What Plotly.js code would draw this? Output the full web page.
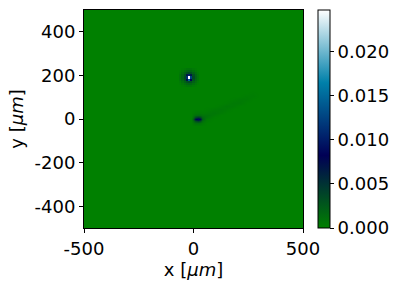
<!DOCTYPE html>
<html>
<head>
<meta charset="utf-8">
<script src="https://cdn.plot.ly/plotly-3.0.1.min.js"></script>
<style>html,body{margin:0;padding:0;background:#fff;}#chart{width:397px;height:288px;}</style>
</head>
<body>
<div id="chart"></div>
<script>
// Background field (edges) – essentially zero everywhere
const bgXEdges = [-500, 500];
const bgYEdges = [-500, 500];
const bgZ = [[0]];

// Bright spot A (cell centres, um)
const spotAX = [-70, -60, -50, -40, -30, -20, -10, 0, 10, 20, 30];
const spotAY = [140, 150, 160, 170, 180, 190, 200, 210, 220, 230, 240];
const spotAZ = [
  [0, 0, 0, 0, 0, 0, 0, 0, 0, 0, 0],
  [0, 0, 0.0002, 0.0004, 0.0007, 0.0008, 0.0007, 0.0004, 0.0002, 0, 0],
  [0, 0.0002, 0.0006, 0.0011, 0.0016, 0.0018, 0.0016, 0.0011, 0.0006, 0.0002, 0],
  [0, 0.0004, 0.0011, 0.0020, 0.0030, 0.0035, 0.0030, 0.0020, 0.0011, 0.0004, 0],
  [0, 0.0007, 0.0016, 0.0030, 0.0070, 0.0140, 0.0080, 0.0030, 0.0016, 0.0007, 0],
  [0, 0.0008, 0.0018, 0.0035, 0.0110, 0.0247, 0.0120, 0.0035, 0.0018, 0.0008, 0],
  [0, 0.0007, 0.0016, 0.0030, 0.0065, 0.0100, 0.0065, 0.0030, 0.0016, 0.0007, 0],
  [0, 0.0004, 0.0011, 0.0020, 0.0030, 0.0035, 0.0030, 0.0020, 0.0011, 0.0004, 0],
  [0, 0.0002, 0.0006, 0.0011, 0.0016, 0.0018, 0.0016, 0.0011, 0.0006, 0.0002, 0],
  [0, 0, 0.0002, 0.0004, 0.0007, 0.0008, 0.0007, 0.0004, 0.0002, 0, 0],
  [0, 0, 0, 0, 0, 0, 0, 0, 0, 0, 0]
];

// Dim spot B with faint tail (cell centres, um)
const spotBX = [-10, 0, 10, 20, 30, 40, 60, 90, 120, 150, 180, 210, 240, 270, 300];
const spotBY = [-30, -20, -10, 0, 10, 20, 30, 45, 60, 75, 90, 105, 120, 135];
const spotBZ = [
  [0, 0, 0, 0, 0, 0, 0, 0, 0, 0, 0, 0, 0, 0, 0],
  [0, 0.0005, 0.0009, 0.0010, 0.0008, 0.0004, 0, 0, 0, 0, 0, 0, 0, 0, 0],
  [0, 0.0012, 0.0030, 0.0040, 0.0030, 0.0010, 0.0002, 0, 0, 0, 0, 0, 0, 0, 0],
  [0, 0.0025, 0.0075, 0.0090, 0.0070, 0.0020, 0.0003, 0, 0, 0, 0, 0, 0, 0, 0],
  [0, 0.0012, 0.0035, 0.0045, 0.0035, 0.0015, 0.0007, 0.0001, 0, 0, 0, 0, 0, 0, 0],
  [0, 0.0006, 0.0010, 0.0012, 0.0010, 0.0008, 0.0008, 0.0004, 0, 0, 0, 0, 0, 0, 0],
  [0, 0.0002, 0.0004, 0.0005, 0.0004, 0.0003, 0.0004, 0.0006, 0.0003, 0, 0, 0, 0, 0, 0],
  [0, 0, 0, 0, 0, 0, 0.0001, 0.0003, 0.0005, 0.0003, 0, 0, 0, 0, 0],
  [0, 0, 0, 0, 0, 0, 0, 0, 0.0002, 0.0005, 0.0003, 0, 0, 0, 0],
  [0, 0, 0, 0, 0, 0, 0, 0, 0, 0.0001, 0.0004, 0.0004, 0, 0, 0],
  [0, 0, 0, 0, 0, 0, 0, 0, 0, 0, 0.0001, 0.0003, 0.0003, 0, 0],
  [0, 0, 0, 0, 0, 0, 0, 0, 0, 0, 0, 0, 0.0002, 0.0002, 0],
  [0, 0, 0, 0, 0, 0, 0, 0, 0, 0, 0, 0, 0, 0.0001, 0],
  [0, 0, 0, 0, 0, 0, 0, 0, 0, 0, 0, 0, 0, 0, 0]
];

const xTickVals = [-500, 0, 500];
const xTickText = ['-500', '0', '500'];
const yTickVals = [-400, -200, 0, 200, 400];
const yTickText = ['-400', '-200', '0', '200', '400'];
const cbTickVals = [0, 0.005, 0.010, 0.015, 0.020];
const cbTickText = ['0.000', '0.005', '0.010', '0.015', '0.020'];
const zMax = 0.0247;

// matplotlib "ocean" colormap
const ocean = [
  [0, 'rgb(0,128,0)'],
  [1/3, 'rgb(0,0,85)'],
  [2/3, 'rgb(0,128,170)'],
  [1, 'rgb(255,255,255)']
];

const traces = [
  {type: 'heatmap', x: bgXEdges, y: bgYEdges, z: bgZ, coloraxis: 'coloraxis', hoverinfo: 'skip'},
  {type: 'heatmap', x: spotBX, y: spotBY, z: spotBZ, coloraxis: 'coloraxis', zsmooth: 'best', hoverinfo: 'skip'},
  {type: 'heatmap', x: spotAX, y: spotAY, z: spotAZ, coloraxis: 'coloraxis', zsmooth: false, hoverinfo: 'skip'}
];

const font = {family: 'DejaVu Sans', size: 18, color: '#000'};

const layout = {
  width: 397, height: 288,
  margin: {l: 84, r: 94, t: 10, b: 60, pad: 0, autoexpand: false},
  paper_bgcolor: '#fff', plot_bgcolor: '#fff',
  font: font,
  showlegend: false,
  xaxis: {
    range: [-500, 500], tickvals: xTickVals, ticktext: xTickText, ticks: 'outside', ticklen: 4, tickwidth: 1, tickcolor: '#000',
    showline: true, mirror: true, linecolor: '#000', linewidth: 1, showgrid: false, zeroline: false,
    tickfont: font, automargin: false,
    title: {text: 'x [<i>μm</i>]', font: font, standoff: 2}
  },
  yaxis: {
    range: [-500, 500], tickvals: yTickVals, ticktext: yTickText, ticks: 'outside', ticklen: 4, tickwidth: 1, tickcolor: '#000',
    showline: true, mirror: true, linecolor: '#000', linewidth: 1, showgrid: false, zeroline: false,
    tickfont: font, automargin: false,
    title: {text: 'y [<i>μm</i>]', font: font, standoff: 6}
  },
  coloraxis: {
    cmin: 0, cmax: zMax, colorscale: ocean,
    colorbar: {
      thickness: 12, thicknessmode: 'pixels', len: 1, lenmode: 'fraction',
      x: 1.068, xanchor: 'left', xpad: 0, y: 0.5, yanchor: 'middle', ypad: 0,
      outlinecolor: '#000', outlinewidth: 1,
      ticks: 'outside', ticklen: 4, tickcolor: '#000', tickvals: cbTickVals, ticktext: cbTickText,
      tickfont: font
    }
  }
};

Plotly.newPlot('chart', traces, layout, {staticPlot: true, displayModeBar: false});
</script>
</body>
</html>
